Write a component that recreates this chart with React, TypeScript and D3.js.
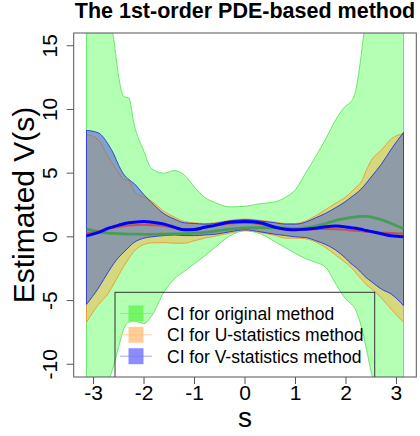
import * as d3 from 'd3'

// ── data ─────────────────────────────────────────────────────────────────────
const S = [-3.14, -2.9, -2.7, -2.6, -2.5, -2.4, -2.3, -2.2, -2.0, -1.85, -1.6, -1.4, -1.2, -1.0, -0.8, -0.6, -0.3, 0, 0.3, 0.6, 0.8, 1.0, 1.2, 1.4, 1.6, 1.8, 2.0, 2.1, 2.2, 2.3, 2.4, 2.5, 2.7, 2.9, 3.14]

// CI for original method
const origHi = [24, 20, 17.5, 15.5, 12.5, 11.0, 10.9, 8.9, 6.7, 5.35, 5.0, 5.2, 4.85, 3.9, 3.1, 2.7, 2.35, 2.4, 2.6, 2.75, 3.1, 3.7, 5.0, 6.3, 7.7, 9.2, 10.3, 10.6, 11.6, 14.2, 17.5, 20, 23, 24, 25]
const origLo = [-16, -14, -11.3, -10.1, -8.6, -7.2, -6.7, -6.6, -6.8, -6.2, -4.3, -3.3, -2.7, -2.1, -1.5, -0.85, 0.08, 0.47, 0.25, -0.4, -0.85, -1.3, -1.7, -2.0, -2.4, -3.7, -4.9, -5.25, -5.8, -7.0, -8.7, -10.6, -13, -15, -16]
// CI for U-statistics method
const uHi = [8.05, 7.6, 6.2, 5.6, 5.0, 4.5, 4.4, 3.6, 3.1, 2.8, 2.0, 1.55, 1.2, 1.1, 1.05, 1.1, 1.3, 1.4, 1.3, 1.15, 1.05, 1.05, 1.25, 1.65, 2.15, 2.65, 3.15, 3.5, 3.9, 4.3, 5.2, 6.0, 6.8, 7.7, 8.1]
const uLo = [-6.7, -5.3, -4.4, -3.7, -3.0, -2.3, -1.7, -1.15, -0.6, -0.47, -0.45, -0.5, -0.5, -0.3, -0.1, 0.05, 0.3, 0.5, 0.35, 0.1, -0.1, -0.1, -0.15, -0.4, -0.85, -1.45, -2.05, -2.4, -2.85, -3.3, -3.75, -4.05, -4.8, -5.7, -6.7]
// CI for V-statistics method
const vHi = [8.36, 8.15, 7.2, 6.5, 5.6, 4.9, 4.5, 4.2, 3.3, 2.7, 1.8, 1.4, 1.1, 1.05, 1.0, 1.05, 1.25, 1.35, 1.25, 1.1, 1.0, 1.0, 1.15, 1.5, 1.85, 2.3, 2.8, 3.1, 3.4, 3.75, 4.2, 4.7, 5.7, 6.9, 8.2]
const vLo = [-5.3, -4.0, -2.7, -2.1, -1.6, -1.2, -0.8, -0.45, -0.1, 0.0, 0.1, 0.15, 0.1, 0.1, 0.15, 0.2, 0.4, 0.55, 0.4, 0.2, 0.1, 0.0, -0.05, -0.3, -0.6, -1.05, -1.7, -2.1, -2.4, -2.8, -3.2, -3.5, -4.1, -4.5, -5.4]
// point estimates
const origEst = [0.6, 0.4, 0.3, 0.27, 0.25, 0.23, 0.22, 0.22, 0.2, 0.2, 0.22, 0.23, 0.25, 0.3, 0.35, 0.45, 0.6, 0.7, 0.72, 0.7, 0.68, 0.65, 0.7, 0.85, 1.05, 1.3, 1.45, 1.52, 1.57, 1.6, 1.6, 1.55, 1.35, 1.05, 0.63]
const uEst = [0.3, 0.45, 0.65, 0.72, 0.8, 0.85, 0.9, 0.92, 0.95, 0.92, 0.85, 0.72, 0.6, 0.6, 0.72, 0.85, 1.05, 1.1, 1.0, 0.75, 0.62, 0.58, 0.58, 0.6, 0.62, 0.6, 0.55, 0.5, 0.47, 0.45, 0.4, 0.38, 0.33, 0.3, 0.25]
const vEst = [0.08, 0.35, 0.68, 0.8, 0.92, 1.03, 1.1, 1.15, 1.2, 1.15, 1.0, 0.75, 0.55, 0.58, 0.75, 0.9, 1.15, 1.2, 1.1, 0.75, 0.6, 0.55, 0.6, 0.68, 0.8, 0.85, 0.78, 0.72, 0.68, 0.6, 0.5, 0.42, 0.25, 0.08, 0.0]

const xTicks = [-3, -2, -1, 0, 1, 2, 3]
const yTicks = [-10, -5, 0, 5, 10, 15]
const legendLabels = ['CI for original method', 'CI for U-statistics method', 'CI for V-statistics method']

// ── layout / colours ─────────────────────────────────────────────────────────
const W = 420, H = 436
const L = 73.7, R = 416.3, T = 33, B = 377
const FONT = '"Liberation Sans", Arial, Helvetica, sans-serif'
const C_GREEN = '#b3ffb3', E_GREEN = '#6ae66a'
const C_YEL = '#d5d87c', E_ORANGE = '#e9a23a'
const C_BLU = '#7ea3c8', E_BLUE = '#3742d2'
const C_GRAY = '#8f9ba6'
const LEG_FILL = ['#66f555', '#ffc482', '#7878ff']
const LEG_LINE = ['#90f090', '#ffcf9a', '#a0a0ff']

type Pt = { s: number; lo: number; hi: number }
const band = (lo: number[], hi: number[]): Pt[] => S.map((s, i) => ({ s, lo: lo[i], hi: hi[i] }))

export default function App() {
  const x = d3.scaleLinear().domain([-3.393, 3.393]).range([L, R])
  const y = d3.scaleLinear().domain([-11, 16]).range([B, T])

  const area = d3.area<Pt>().x(d => x(d.s)).y0(d => y(d.lo)).y1(d => y(d.hi)).curve(d3.curveMonotoneX)
  const line = d3.line<number>().x((_, i) => x(S[i])).y(d => y(d)).curve(d3.curveMonotoneX)

  const gOrig = area(band(origLo, origHi)) ?? ''
  const gU = area(band(uLo, uHi)) ?? ''
  const gV = area(band(vLo, vHi)) ?? ''

  const legTop = 292.3
  const rowY = [313.5, 334.8, 356.2]

  return (
    <svg width={W} height={H} style={{ position: 'absolute', left: 0, top: 0, background: '#fff' }} fontFamily={FONT}>
      <defs>
        <clipPath id="plot"><rect x={L} y={T} width={R - L} height={B - T} /></clipPath>
        <clipPath id="vband"><path d={gV} /></clipPath>
      </defs>

      <g clipPath="url(#plot)">
        {/* original CI */}
        <path d={gOrig} fill={C_GREEN} stroke={E_GREEN} strokeWidth={1} />
        {/* U-stat CI */}
        <path d={gU} fill={C_YEL} stroke={E_ORANGE} strokeWidth={1} />
        {/* V-stat CI, and overlap of both */}
        <path d={gV} fill={C_BLU} />
        <path d={gU} fill={C_GRAY} clipPath="url(#vband)" />
        <path d={gU} fill="none" stroke="#b27a66" strokeWidth={1} clipPath="url(#vband)" />
        <path d={gV} fill="none" stroke={E_BLUE} strokeWidth={1} />

        {/* estimates */}
        <path d={line(origEst) ?? ''} fill="none" stroke="#3e9e4e" strokeOpacity={0.9} strokeWidth={2.8} />
        <path d={line(uEst) ?? ''} fill="none" stroke="#c8483a" strokeOpacity={0.85} strokeWidth={2} />
        <path d={line(vEst) ?? ''} fill="none" stroke="#0000ff" strokeWidth={3} />

        {/* legend (no background) */}
        <rect x={115} y={legTop} width={259.7} height={100} fill="none" stroke="#333" strokeWidth={1} />
        {legendLabels.map((lab, i) => (
          <g key={lab}>
            <line x1={120} x2={152} y1={rowY[i]} y2={rowY[i]} stroke={LEG_LINE[i]} strokeWidth={1} />
            <rect x={128.5} y={rowY[i] - 8} width={15} height={16} fill={LEG_FILL[i]} fillOpacity={0.85} />
            <text x={167} y={rowY[i] + 6.3} fontSize={17.5} fill="#000">{lab}</text>
          </g>
        ))}
      </g>

      {/* frame */}
      <rect x={L} y={T} width={R - L} height={B - T} fill="none" stroke="#555" strokeWidth={1} />

      {/* x axis */}
      {xTicks.map(t => (
        <g key={t}>
          <line x1={x(t)} x2={x(t)} y1={B} y2={B + 7} stroke="#555" />
          <text x={x(t)} y={400} fontSize={21} textAnchor="middle">{t}</text>
        </g>
      ))}
      {/* y axis */}
      {yTicks.map(t => (
        <g key={t}>
          <line x1={L - 7} x2={L} y1={y(t)} y2={y(t)} stroke="#555" />
          <text transform={`translate(57,${y(t)}) rotate(-90)`} fontSize={21} textAnchor="middle">{t}</text>
        </g>
      ))}

      <text x={(L + R) / 2} y={17.5} fontSize={21.5} fontWeight="bold" textAnchor="middle">The 1st-order PDE-based method</text>
      <text x={(L + R) / 2} y={427} fontSize={28} textAnchor="middle">s</text>
      <text transform={`translate(34,${(T + B) / 2}) rotate(-90)`} fontSize={30} textAnchor="middle">Estimated V(s)</text>
    </svg>
  )
}
